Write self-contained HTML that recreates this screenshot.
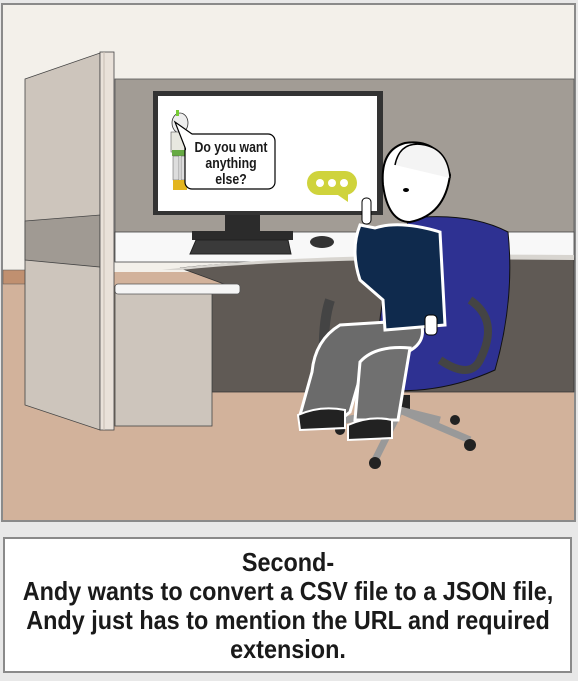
<!DOCTYPE html>
<html><head><style>
html,body{margin:0;padding:0;background:#e8e8e8;}
#w{position:relative;width:578px;height:681px;overflow:hidden;background:#e8e8e8;}
.cap{position:absolute;left:3px;top:537px;width:569px;height:136px;background:#fff;border:2px solid #8a8a8a;text-align:center;font-family:"Liberation Sans",sans-serif;font-weight:bold;color:#1a1a1a;font-size:26px;line-height:29px;padding-top:9px;box-sizing:border-box;overflow:hidden;}
.cap span{display:block;width:800px;margin-left:-117.5px;white-space:nowrap;transform:scaleX(0.9);transform-origin:center;}
</style></head><body><div id="w">
<svg width="578" height="530" viewBox="0 0 578 530" style="position:absolute;left:0;top:0">
<rect x="2" y="4" width="573" height="517" fill="#f3f0ea" stroke="#8a8a8a" stroke-width="2"/>
<rect x="3" y="272" width="571" height="248" fill="#d2b29b"/>
<rect x="115" y="79" width="459" height="182" fill="#a29c95" stroke="#555" stroke-width="0.8"/>
<rect x="3" y="270" width="26" height="14" fill="#c09070" stroke="#555" stroke-width="0.5"/>
<rect x="115" y="232" width="459" height="30" fill="#f8f8f8" stroke="#444" stroke-width="0.8"/>
<path d="M180 268 Q300 255 574 258 L574 392 L212 392 L212 290 L240 290 Q200 275 180 268 Z" fill="#605a55" stroke="#333" stroke-width="0.8"/>
<path d="M162 270 Q300 252 574 255 L574 260 Q300 257 180 270 Z" fill="#d8d5d0"/>
<rect x="115" y="286" width="97" height="140" fill="#cdc5bc" stroke="#444" stroke-width="0.8"/>
<rect x="115" y="284" width="125" height="10" rx="3" fill="#f5f5f5" stroke="#555" stroke-width="0.8"/>
<polygon points="25,79 100,53 100,430 25,405" fill="#cdc5bc" stroke="#444" stroke-width="0.8"/>
<polygon points="25,221 100,215 100,267 25,260" fill="#a09a93" stroke="#444" stroke-width="0.8"/>
<rect x="100" y="52" width="14" height="378" fill="#e9e1d9" stroke="#444" stroke-width="0.8"/>
<line x1="104" y1="52" x2="104" y2="430" stroke="#c8bdb2" stroke-width="1"/>
<rect x="153" y="91" width="230" height="124" fill="#333"/>
<rect x="158" y="96" width="219" height="115" fill="#fff"/>
<rect x="225" y="215" width="35" height="18" fill="#2b2b2b"/>
<rect x="192" y="231" width="101" height="9" fill="#2b2b2b"/>
<polygon points="196,240 288,240 291,254 190,254" fill="#3a3a3a" stroke="#222"/>
<ellipse cx="322" cy="242" rx="12" ry="6" fill="#333"/>
<ellipse cx="180" cy="123" rx="8" ry="10" fill="#eee" stroke="#333" stroke-width="0.8"/>
<rect x="176" y="110" width="3" height="6" fill="#7c3"/>
<rect x="171" y="132" width="18" height="20" fill="#e8e8e0" stroke="#555" stroke-width="0.6"/>
<rect x="172" y="150" width="16" height="6" fill="#6a4"/>
<rect x="173" y="156" width="6" height="24" fill="#ddd" stroke="#555" stroke-width="0.5"/>
<rect x="181" y="156" width="6" height="24" fill="#ddd" stroke="#555" stroke-width="0.5"/>
<rect x="173" y="180" width="14" height="10" fill="#e3b51f"/>
<rect x="185" y="134" width="90" height="55" rx="7" fill="#fff" stroke="#000" stroke-width="1.2"/>
<path d="M186 150 L175 122 L192 134" fill="#fff" stroke="#000" stroke-width="1.2"/>
<rect x="186" y="135" width="10" height="18" fill="#fff"/>
<g font-family="Liberation Sans,sans-serif" font-weight="bold" font-size="15" text-anchor="middle" fill="#1a1a1a">
<text transform="translate(231,0) scale(0.82,1)" x="0" y="152">Do you want</text>
<text transform="translate(231,0) scale(0.82,1)" x="0" y="168">anything</text>
<text transform="translate(231,0) scale(0.82,1)" x="0" y="184">else?</text>
</g>
<rect x="307" y="171" width="50" height="24" rx="12" fill="#cfd33c"/>
<polygon points="335,193 348,193 348,202" fill="#cfd33c"/>
<circle cx="320" cy="183" r="4" fill="#fff"/><circle cx="332" cy="183" r="4" fill="#fff"/><circle cx="344" cy="183" r="4" fill="#fff"/>
<path d="M330 300 Q320 330 326 390" fill="none" stroke="#444" stroke-width="10"/>
<path d="M410 218 Q470 212 508 232 Q515 300 495 370 Q440 395 380 390 Q370 300 410 218 Z" fill="#2e3192" stroke="#111" stroke-width="1"/>
<path d="M470 300 Q500 320 480 360 Q470 380 440 360" fill="none" stroke="#444" stroke-width="8"/>
<rect x="395" y="395" width="15" height="18" fill="#222"/>
<path d="M345 420 L400 410 L470 440 M400 410 L375 460 M400 410 L440 420" stroke="#999" stroke-width="7" fill="none"/>
<circle cx="375" cy="463" r="6" fill="#222"/><circle cx="470" cy="445" r="6" fill="#222"/><circle cx="455" cy="420" r="5" fill="#222"/><circle cx="340" cy="430" r="5" fill="#222"/>
<path d="M300 415 L312 372 Q315 340 340 325 L420 320 Q430 345 400 355 L365 360 L350 412 L340 420 Z" fill="#6b6b6b" stroke="#fff" stroke-width="3"/>
<path d="M355 420 L360 362 Q375 345 410 348 L398 420 Z" fill="#707070" stroke="#fff" stroke-width="3"/>
<path d="M298 415 Q320 405 345 410 L345 428 L300 430 Z" fill="#222" stroke="#fff" stroke-width="2"/>
<path d="M348 425 Q370 415 392 420 L392 438 L348 440 Z" fill="#222" stroke="#fff" stroke-width="2"/>
<path d="M375 228 Q400 220 440 232 L445 325 L385 330 L383 300 L360 280 Q350 250 360 225 Z" fill="#0f2a4d" stroke="#fff" stroke-width="3"/>
<rect x="362" y="198" width="9" height="26" rx="4" fill="#fff" stroke="#000"/>
<rect x="425" y="315" width="12" height="20" rx="4" fill="#fff" stroke="#000"/>
<path d="M383 185 Q380 150 405 143 Q440 138 450 175 Q445 215 410 222 Q388 222 383 185 Z" fill="#fff" stroke="#000" stroke-width="2"/>
<path d="M395 165 Q400 140 425 145 Q448 150 450 178" fill="#f4f4f4" stroke="#000" stroke-width="1.5"/>
<ellipse cx="406" cy="190" rx="3" ry="2" fill="#000"/>
</svg>
<div class="cap"><span>Second-</span><span>Andy wants to convert a CSV file to a JSON file,</span><span>Andy just has to mention the URL and required</span><span>extension.</span></div>
</div></body></html>
